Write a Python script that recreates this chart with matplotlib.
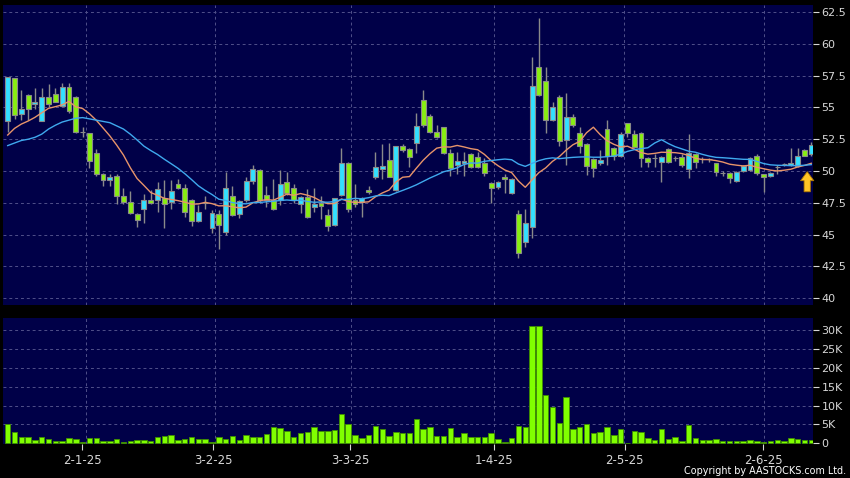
import numpy as np
import pandas as pd
import matplotlib
matplotlib.use("Agg")
import matplotlib.pyplot as plt

# ---- data ----
opens = [53.96, 57.3, 54.5, 56.0, 55.25, 53.95, 55.8, 56.05, 55.1, 56.6,
         55.8, 53.1, 53.0, 51.4, 49.8, 49.3, 49.6, 48.0, 47.6, 46.6,
         47.0, 47.75, 47.7, 47.9, 47.6, 49.0, 48.65, 47.7, 46.1, 47.45,
         45.5, 46.65, 45.2, 48.0, 46.6, 47.7, 49.2, 50.1, 48.1, 47.72,
         47.72, 49.16, 48.7, 47.41, 47.93, 47.15, 47.51, 46.54, 45.75, 48.11,
         50.6, 47.72, 47.59, 48.5, 49.5, 50.16, 50.86, 48.5, 51.97, 51.7,
         52.23, 55.58, 54.32, 53.04, 53.48, 51.39, 50.47, 50.6, 51.31, 51.12,
         50.6, 49.03, 48.72, 49.5, 48.3, 46.62, 44.44, 45.62, 58.2, 57.08,
         54.0, 55.84, 52.44, 54.27, 53.01, 52.1, 50.92, 50.6, 53.27, 51.78,
         51.18, 53.75, 52.88, 53.01, 51.05, 51.0, 50.73, 51.7, 51.0, 51.12,
         50.13, 51.31, 50.92, 50.92, 50.6, 49.87, 49.82, 49.21, 50.02, 50.08,
         51.18, 49.74, 49.6, 50.29, 50.53, 50.47, 50.39, 51.65, 51.31]
highs = [57.4, 57.3, 56.4, 56.05, 56.5, 56.5, 56.85, 56.5, 56.95, 56.95,
         55.9, 53.5, 53.0, 51.7, 49.85, 49.8, 49.8, 48.7, 48.4, 46.7,
         48.2, 48.5, 49.15, 49.3, 49.3, 49.4, 49.0, 47.8, 47.3, 48.0,
         46.9, 46.9, 49.95, 48.8, 47.7, 49.55, 50.5, 50.15, 48.8, 49.4,
         50.1, 49.95, 49.0, 48.0, 48.6, 48.7, 48.0, 47.0, 47.9, 51.78,
         50.7, 48.98, 47.95, 48.8, 51.52, 52.1, 52.2, 52.0, 52.1, 51.8,
         54.53, 56.37, 54.5, 53.6, 53.5, 51.7, 51.5, 51.5, 51.4, 51.5,
         51.0, 49.1, 49.2, 49.8, 49.45, 46.93, 47.0, 58.94, 62.0, 58.2,
         55.4, 56.0, 56.1, 54.5, 53.5, 52.2, 51.0, 51.65, 54.0, 51.9,
         53.1, 53.8, 53.2, 53.1, 51.1, 51.3, 51.2, 51.8, 51.2, 51.3,
         52.9, 51.4, 51.1, 51.0, 50.65, 50.0, 49.9, 50.0, 50.45, 51.1,
         51.3, 49.8, 49.9, 50.5, 50.6, 51.78, 51.78, 51.7, 52.3]
lows = [53.1, 54.1, 54.0, 54.0, 54.9, 53.9, 55.0, 55.4, 55.1, 54.6,
        53.0, 52.65, 50.2, 49.6, 48.8, 48.8, 47.4, 47.4, 46.65, 45.6,
        45.9, 47.4, 46.8, 45.5, 47.0, 48.6, 46.4, 45.7, 46.0, 47.0,
        45.1, 43.9, 45.0, 46.5, 46.3, 47.6, 49.0, 47.5, 47.2, 46.9,
        47.3, 48.1, 47.5, 46.67, 46.3, 46.8, 46.2, 45.3, 45.7, 48.0,
        46.77, 47.2, 46.4, 48.2, 49.4, 49.4, 49.5, 48.4, 51.5, 50.34,
        51.39, 53.5, 53.0, 52.6, 51.3, 49.6, 49.8, 49.6, 50.2, 50.2,
        49.6, 47.5, 48.6, 48.3, 48.2, 43.14, 44.0, 44.7, 55.9, 53.0,
        53.9, 52.0, 50.47, 53.5, 51.4, 49.7, 49.5, 50.5, 50.5, 50.9,
        51.1, 52.7, 51.8, 50.34, 50.29, 50.3, 49.16, 50.6, 50.8, 50.3,
        49.42, 50.2, 50.6, 50.7, 49.6, 49.6, 49.03, 49.1, 49.9, 50.0,
        49.7, 48.37, 49.5, 49.8, 50.4, 50.4, 50.3, 51.2, 51.2]
closes = [57.37, 54.4, 54.85, 54.9, 55.4, 55.8, 55.25, 55.45, 56.6, 54.7,
          53.1, 53.1, 50.75, 49.8, 49.3, 49.55, 48.05, 47.6, 46.7, 46.15,
          47.7, 47.5, 48.6, 47.4, 48.4, 48.65, 46.8, 46.1, 46.8, 47.45,
          46.67, 45.75, 48.7, 46.55, 47.65, 49.2, 50.15, 47.7, 47.72, 46.99,
          48.95, 48.25, 47.72, 47.98, 46.36, 47.41, 47.25, 45.68, 47.85, 50.6,
          46.99, 47.41, 47.9, 48.33, 50.34, 50.39, 49.55, 51.97, 51.65, 51.12,
          53.54, 53.62, 53.09, 52.7, 51.39, 50.21, 50.81, 50.81, 50.29, 50.29,
          49.87, 48.64, 49.16, 49.35, 49.35, 43.58, 45.89, 56.68, 55.97, 54.0,
          55.0, 52.36, 54.22, 53.62, 51.97, 50.42, 50.21, 50.86, 51.18, 51.18,
          52.9, 52.96, 51.86, 50.99, 50.73, 51.0, 51.12, 50.7, 51.0, 50.47,
          51.39, 50.73, 50.92, 50.92, 49.95, 49.87, 49.42, 49.95, 50.39, 51.0,
          49.82, 49.55, 49.82, 50.29, 50.53, 50.65, 51.18, 51.2, 52.04]
volumes = [5030, 2910, 1760, 1590, 970, 1760, 1230, 620, 620, 1410,
           1150, 260, 1410, 1410, 710, 620, 1060, 260, 620, 880,
           880, 620, 1590, 2030, 2120, 970, 1150, 1760, 1150, 1060,
           260, 1680, 1230, 1850, 970, 2120, 1760, 1760, 2470, 4320,
           4060, 3260, 1680, 2650, 3090, 4320, 3170, 3260, 3530, 7670,
           5110, 2120, 1320, 2120, 4670, 3790, 1940, 2910, 2820, 2820,
           6350, 3790, 4230, 1940, 1940, 4060, 1680, 2730, 1590, 1590,
           1590, 2730, 1060, 440, 1410, 4670, 4230, 31200, 31200, 12700,
           9700, 5290, 12260, 3700, 4410, 5030, 2820, 3000, 4410, 2290,
           3790, 180, 3170, 3000, 1410, 970, 3700, 1230, 1680, 710,
           4760, 1410, 880, 970, 1150, 620, 620, 620, 710, 790,
           620, 350, 530, 790, 530, 1410, 1060, 880, 790]
ma10_lead = [52.83, 53.35, 53.69, 53.93, 54.22, 54.58, 54.93, 55.06, 55.2]
ma20_lead = [52.0, 52.2, 52.4, 52.5, 52.65, 52.9, 53.3, 53.6, 53.85, 54.0,
             54.15, 54.2, 54.1, 54.0, 53.9, 53.8, 53.55, 53.3, 52.9]

date_labels = ["2-1-25", "3-2-25", "3-3-25", "1-4-25", "2-5-25", "2-6-25"]
date_ticks = [10.95, 30.2, 50.3, 71.4, 90.6, 110.9]
date_grid = [11.45, 30.5, 50.45, 71.45, 90.5, 111.0]
price_ticks = [40, 42.5, 45, 47.5, 50, 52.5, 55, 57.5, 60, 62.5]
vol_ticks = [0, 5000, 10000, 15000, 20000, 25000, 30000]
vol_labels = ["0", "5K", "10K", "15K", "20K", "25K", "30K"]

# ---- styling ----
BG = "#000048"
GRID = "#50508a"
UP = "#33e0ff"
DOWN = "#88ee11"
EDGE = "#8a8a8a"
TXT = "#d8d8d8"

o = np.array(opens); h = np.array(highs); l = np.array(lows); c = np.array(closes)
v = np.array(volumes)
x = np.arange(len(c))

s = pd.Series(c)
ma10 = s.rolling(10).mean().to_numpy()
ma20 = s.rolling(20).mean().to_numpy()
ma10[:len(ma10_lead)] = ma10_lead
ma20[:len(ma20_lead)] = ma20_lead

fig = plt.figure(figsize=(8.5, 4.78), dpi=100, facecolor="black")
W, H = 850.0, 478.0
ax = fig.add_axes([3 / W, 1 - 305 / H, 810 / W, 300 / H])
axv = fig.add_axes([3 / W, 1 - 444 / H, 810 / W, 126 / H], sharex=ax)

for a in (ax, axv):
    a.set_facecolor(BG)
    for sp in a.spines.values():
        sp.set_visible(False)
    for g in date_grid:
        a.axvline(g, color=GRID, lw=0.7, ls=(0, (3, 3)), zorder=0.5)

# price panel
for p in price_ticks:
    ax.axhline(p, color=GRID, lw=0.7, ls=(0, (3, 3)), zorder=0.5)
ax.vlines(x, l, h, color=EDGE, lw=1.0, zorder=1)
body_h = np.abs(c - o)
body_b = np.minimum(o, c)
cols = np.where(c > o, UP, DOWN)
ax.bar(x, body_h, bottom=body_b, width=0.72, color=cols, edgecolor=EDGE,
       linewidth=0.8, zorder=2)
ax.plot(x, ma10, color="#e8946a", lw=1.0, zorder=3)
ax.plot(x, ma20, color="#3fa9ee", lw=1.0, zorder=3)
ax.annotate("", xy=(x[-1] - 0.6, 49.95), xytext=(x[-1] - 0.6, 48.37),
            arrowprops=dict(arrowstyle="simple,head_length=0.65,head_width=0.95,tail_width=0.45",
                            fc="#ffc425", ec="#b07800", lw=0.6, shrinkA=0, shrinkB=0,
                            mutation_scale=10), zorder=4)

ax.set_xlim(-0.69, 118.25)
ax.set_ylim(39.47, 63.05)
ax.yaxis.tick_right()
ax.set_yticks(price_ticks)
ax.set_yticklabels(["%g" % p for p in price_ticks])
ax.tick_params(axis="y", colors=TXT, labelsize=8, length=4, width=0.8, pad=2, direction="out")
ax.tick_params(axis="x", bottom=False, labelbottom=False)

# volume panel
for t in vol_ticks[1:]:
    axv.axhline(t, color=GRID, lw=0.7, ls=(0, (3, 3)), zorder=0.5)
axv.bar(x, v, width=0.8, color="#80ff00", edgecolor="#3f8f00", linewidth=0.6, zorder=2)
axv.set_ylim(-200, 33200)
axv.yaxis.tick_right()
axv.set_yticks(vol_ticks)
axv.set_yticklabels(vol_labels)
axv.tick_params(axis="y", colors=TXT, labelsize=8, length=4, width=0.8, pad=2, direction="out")
axv.set_xticks(date_ticks)
axv.set_xticklabels(date_labels)
axv.tick_params(axis="x", colors=TXT, labelsize=8.5, length=4, width=0.8, pad=3, direction="out")

fig.text(846 / W, 1 - 471 / H, "Copyright by AASTOCKS.com Ltd.", ha="right", va="center",
         color="white", fontsize=6.9)

fig.savefig("out.png", dpi=100, facecolor="black")
